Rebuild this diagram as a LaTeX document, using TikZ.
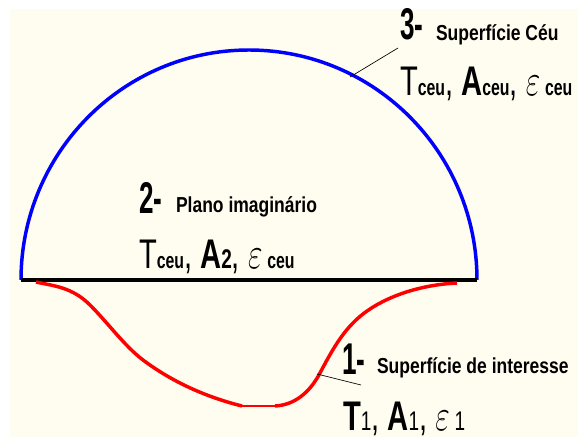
\documentclass[tikz,border=0pt]{standalone}
\usepackage{fontspec}
\usepackage{graphicx}
\setmainfont{Liberation Sans}
\definecolor{paper}{RGB}{255,252,240}
\newcommand{\lo}[1]{{\fontsize{12.5}{12.5}\selectfont\bfseries #1}}
\newcommand{\lonum}[1]{{\fontsize{15}{15}\selectfont #1}}
\newcommand{\eps}{{\fontsize{30}{30}\selectfont$\varepsilon$}}
\newcommand{\bigt}[1]{\scalebox{.85}[1.45]{\fontsize{23}{23}\selectfont\bfseries #1}}
\newcommand{\smallt}[1]{\scalebox{1.05}[1.3]{\fontsize{12.5}{12.5}\selectfont\bfseries #1}}
\newcommand{\vart}[1]{\scalebox{.95}[1.35]{\fontsize{23}{23}\selectfont #1}}
\tikzset{
  txt/.style={anchor=base west,inner sep=0pt,outer sep=0pt,text=black},
  leader/.style={draw=black,line width=.5pt},
  thick line/.style={line width=2.6pt,line join=round}
}
\begin{document}
\begin{tikzpicture}[x=0.75pt,y=-0.75pt]
\useasboundingbox (0,0) rectangle (578,438);
\fill[white] (0,0) rectangle (578,438);
\fill[paper] (10,9) rectangle (578,437);
% blue sky surface
\draw[blue,thick line] (21,280) arc[start angle=180,end angle=360,x radius=228,y radius=230];
% plane
\draw[black,thick line] (21,280) -- (477,280);
% red surface
\draw[red,thick line] (36,282) .. controls (54,286) and (72,287) .. (90,305)
  .. controls (108,323) and (125,346.5) .. (143,360)
  .. controls (175,384) and (210,398) .. (242,406);
\draw[red,line width=.8pt] (242,406) -- (275,406);
\draw[red,thick line] (275,406) .. controls (295,405) and (310,392) .. (320,373)
  .. controls (330,354) and (340,336) .. (353,323)
  .. controls (375,300) and (415,285) .. (457,283);
% leaders
\coordinate (c3) at (350,77);
\coordinate (e3) at (398,48);
\coordinate (c1) at (317,374);
\coordinate (e1) at (361,385);
\draw[leader] (c3) -- (e3);
\draw[leader] (c1) -- (e1);
% labels
\node[txt] (n3) at (400,40) {\bigt{3-}};
\node[txt] (s3) at (436,41) {\smallt{Superfície Céu}};
\node[txt] (v3) at (400,96) {\vart{T\lo{ceu}, \textbf{A}\lo{ceu}, \eps\,\lo{ceu}}};
\node[txt] (n2) at (139,214) {\bigt{2-}};
\node[txt] (s2) at (176,213) {\smallt{Plano imaginário}};
\node[txt] (v2) at (139,269) {\vart{T\lo{ceu}, \textbf{A}{\lonum{\bfseries 2}}, \eps\,\lo{ceu}}};
\node[txt] (n1) at (342,374) {\bigt{1-}};
\node[txt] (s1) at (377,373) {\smallt{Superfície de interesse}};
\node[txt] (v1) at (343,430) {\vart{\textbf{T}\lonum{1}, \textbf{A}\lonum{1}, \eps\,\lonum{1}}};
\end{tikzpicture}
\end{document}
